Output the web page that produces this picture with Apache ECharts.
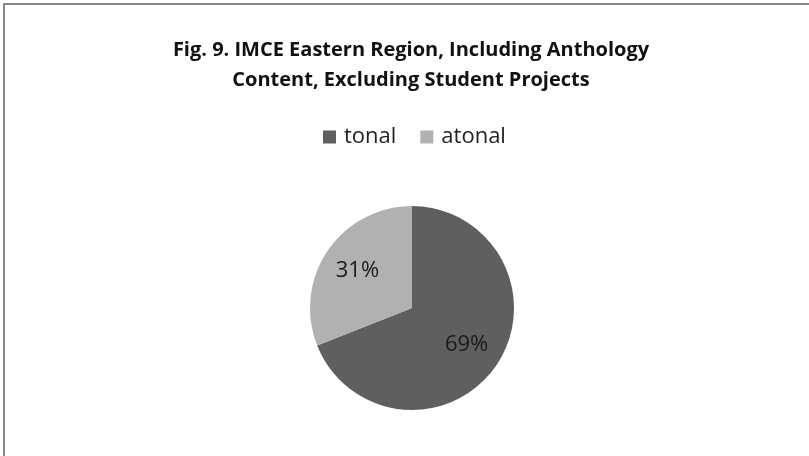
<!DOCTYPE html>
<html><head><meta charset="utf-8">
<script src="https://cdn.jsdelivr.net/npm/echarts@6/dist/echarts.min.js"></script>
<style>html,body{margin:0;padding:0;background:#fff}#c{width:809px;height:456px}</style>
</head><body><div id="c"></div>
<script>
const categories = ['tonal', 'atonal'];
const values = [69, 31];
const colors = ['#5f5f5f', '#b1b1b1'];
const titleText = 'Fig. 9. IMCE Eastern Region, Including Anthology\nContent, Excluding Student Projects';

const chart = echarts.init(document.getElementById('c'), null, {renderer: 'canvas'});
const data = categories.map((n, i) => ({name: n, value: values[i], itemStyle: {color: colors[i]}}));
chart.setOption({
  animation: false,
  backgroundColor: '#fff',
  graphic: [{type: 'rect', shape: {x: 4, y: 4, width: 820, height: 470}, style: {fill: 'none', stroke: '#8a8a8a', lineWidth: 2}, silent: true}],
  title: {
    text: titleText, left: 406, top: 30, textAlign: 'center',
    textStyle: {fontFamily: 'Open Sans', fontWeight: 'bold', fontSize: 20, color: '#111', lineHeight: 30}
  },
  legend: {
    data: categories, left: 318, top: 121, itemWidth: 13, itemHeight: 13, itemGap: 24,
    icon: 'rect', textStyle: {fontFamily: 'Open Sans', fontSize: 22, color: '#222', padding: [0, 0, 0, 3]}, selectedMode: false
  },
  series: [{
    type: 'pie', center: [412, 308], radius: [0, 102], startAngle: 90, clockwise: true,
    label: {show: false}, labelLine: {show: false}, silent: true, data: data
  }, {
    type: 'pie', center: [412, 308], radius: [0, 126], startAngle: 90, clockwise: true, silent: true,
    itemStyle: {color: 'rgba(0,0,0,0)'},
    label: {show: true, position: 'inside', formatter: '{d}%', fontFamily: 'Open Sans', fontSize: 22, color: '#1a1a1a'},
    labelLine: {show: false},
    data: categories.map((n, i) => ({name: n, value: values[i], itemStyle: {color: 'rgba(0,0,0,0)'}}))
  }]
});
</script></body></html>
